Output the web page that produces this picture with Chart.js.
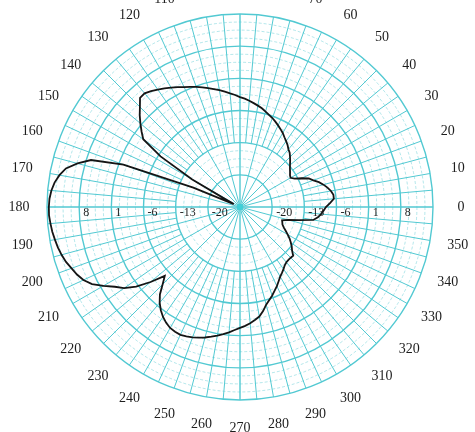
<!DOCTYPE html>
<html><head><meta charset="utf-8">
<script src="https://cdn.jsdelivr.net/npm/chart.js@4.4.1/dist/chart.umd.min.js"></script>
<style>html,body{margin:0;padding:0;background:#fff;} #wrap{width:475px;height:432px;position:relative;}</style>
</head><body><div id="wrap"><canvas id="c"></canvas></div>
<script>
// ---- data ----
const anglesDeg = [0,2.5,5,7.5,10,12.5,15,17.5,20,22.5,25,27.5,30,32.5,35,37.5,40,42.5,45,47.5,50,52.5,55,57.5,60,62.5,65,67.5,70,72.5,75,77.5,80,82.5,85,87.5,90,92.5,95,97.5,100,102.5,105,107.5,110,112.5,115,117.5,120,122.5,125,127.5,130,132.5,135,137.5,140,142.5,145,147.5,150,152.5,155,157.5,160,162.5,165,167.5,170,172.5,175,177.5,180,182.5,185,187.5,190,192.5,195,197.5,200,202.5,205,207.5,210,212.5,215,217.5,220,222.5,225,227.5,230,232.5,235,237.5,240,242.5,245,247.5,250,252.5,255,257.5,260,262.5,265,267.5,270,272.5,275,277.5,280,282.5,285,287.5,290,292.5,295,297.5,300,302.5,305,307.5,310,312.5,315,317.5,320,322.5,325,327.5,330,332.5,335,337.5,340,342.5,345,347.5,350,352.5,355,357.5];
const gainDb = [
  -8.3,-7.4,-6.5,-6.5,-6.9,-7.5,-8.2,-9.0,-10.0,-10.8,-12.2,-13.6,-14.3,-14.1,-13.7,-13.3,
  -12.8,-12.2,-11.6,-11.0,-10.6,-10.0,-9.5,-9.0,-8.4,-7.9,-7.4,-6.9,-6.4,-6.0,-5.5,-5.0,
  -4.6,-4.2,-3.8,-3.4,-3.1,-2.6,-2.2,-1.7,-1.2,-0.7,-0.2,0.3,0.8,1.3,1.8,2.4,
  3.0,3.6,4.2,4.8,5.3,5.2,3.8,2.6,1.3,0.0,-1.3,-6.5,-15.0,-24.0,-25.5,-16.0,
  0.0,7.0,9.6,11.8,12.9,13.7,14.2,14.5,14.6,14.6,14.4,14.2,13.9,13.6,13.2,12.7,
  12.0,11.4,10.6,9.3,7.3,5.3,3.8,1.5,-1.6,-4.8,-3.2,-1.2,0.2,1.3,2.2,2.9,
  3.4,3.6,3.7,3.5,3.2,2.8,2.4,1.9,1.4,0.9,0.4,-0.2,-0.7,-1.1,-1.6,-2.2,
  -2.8,-3.8,-5.0,-5.8,-6.5,-7.3,-8.0,-8.8,-9.5,-10.0,-10.5,-11.0,-11.3,-11.4,-11.4,-11.3,
  -12.2,-12.8,-13.5,-14.2,-15.0,-15.8,-16.5,-17.0,-17.2,-17.4,-16.1,-13.9,-10.8,-9.9,-9.3,-8.8
];
const radialTickValues = [-20,-13,-6,1,8];
const radialMin = -27, radialMax = 15, radialStep = 7;
const angleLabelStep = 10;
const spokeStep = 5;

// library order: Chart.js goes clockwise, the reference goes counter-clockwise from 0 at right
const order = anglesDeg.map((a, i) => (anglesDeg.length - i) % anglesDeg.length);
const chartLabels = order.map(i => String(anglesDeg[i]));
const chartData = order.map(i => gainDb[i]);

const GRID = '#52c9d2';
const polarPaper = {
  id: 'polarPaper',
  beforeDatasetsDraw(chart) {
    const s = chart.scales.r, ctx = chart.ctx;
    ctx.save();
    // minor circles
    ctx.strokeStyle = 'rgba(82,201,210,0.55)';
    ctx.lineWidth = 0.8;
    ctx.setLineDash([3, 2]);
    const nMinor = ((radialMax - radialMin) / radialStep) * 4;
    for (let k = 5; k < nMinor; k++) {
      if (k % 4 === 0) continue;
      const v = radialMin + k * radialStep / 4;
      const r = s.getDistanceFromCenterForValue(v);
      ctx.beginPath(); ctx.arc(s.xCenter, s.yCenter, r, 0, Math.PI * 2); ctx.stroke();
    }
    ctx.setLineDash([]);
    // spokes
    ctx.strokeStyle = GRID;
    for (let i = 0; i < chartLabels.length; i++) {
      const a = +chartLabels[i];
      if (a % spokeStep !== 0) continue;
      const startV = (a % 15 === 0) ? radialMin : radialMin + 2 * radialStep;
      ctx.lineWidth = (a % 90 === 0) ? 1.4 : 1;
      const p0 = s.getPointPositionForValue(i, startV);
      const p1 = s.getPointPositionForValue(i, radialMax);
      ctx.beginPath(); ctx.moveTo(p0.x, p0.y); ctx.lineTo(p1.x, p1.y); ctx.stroke();
    }
    // center dot
    ctx.fillStyle = '#3fd0d8';
    ctx.beginPath(); ctx.arc(s.xCenter, s.yCenter, 3, 0, Math.PI * 2); ctx.fill();
    ctx.restore();
  },
  afterDraw(chart) {
    const s = chart.scales.r, ctx = chart.ctx;
    ctx.save();
    ctx.fillStyle = '#1e1e1e';
    ctx.textAlign = 'center';
    ctx.textBaseline = 'middle';
    ctx.font = '14px "Liberation Serif", "DejaVu Serif", serif';
    for (let i = 0; i < chartLabels.length; i++) {
      const a = +chartLabels[i];
      if (a % angleLabelStep !== 0) continue;
      const p = s.getPointPosition(i, s.drawingArea + 28);
      ctx.fillText(chartLabels[i], p.x, p.y);
    }
    ctx.font = '12px "Liberation Serif", "DejaVu Serif", serif';
    ctx.textAlign = 'left';
    radialTickValues.forEach(v => {
      const r = s.getDistanceFromCenterForValue(v);
      ctx.fillText(String(v), s.xCenter + r + 4, s.yCenter + 6);
      ctx.fillText(String(v), s.xCenter - r + 4, s.yCenter + 6);
    });
    ctx.restore();
  }
};

new Chart(document.getElementById('c'), {
  type: 'radar',
  data: {
    labels: chartLabels,
    datasets: [{
      data: chartData,
      borderColor: '#151515',
      borderWidth: 1.8,
      fill: false,
      pointRadius: 0,
      pointHoverRadius: 0,
      tension: 0
    }]
  },
  options: {
    responsive: true,
    maintainAspectRatio: false,
    animation: false,
    layout: { padding: { left: 47, right: 42, top: 14, bottom: 32 } },
    plugins: { legend: { display: false }, tooltip: { enabled: false } },
    scales: {
      r: {
        min: radialMin,
        max: radialMax,
        startAngle: 90,
        beginAtZero: false,
        ticks: { display: false, stepSize: radialStep },
        grid: { circular: true, color: GRID, lineWidth: 1.4 },
        angleLines: { display: false },
        pointLabels: { display: false }
      }
    }
  },
  plugins: [polarPaper]
});
</script>
</body></html>
